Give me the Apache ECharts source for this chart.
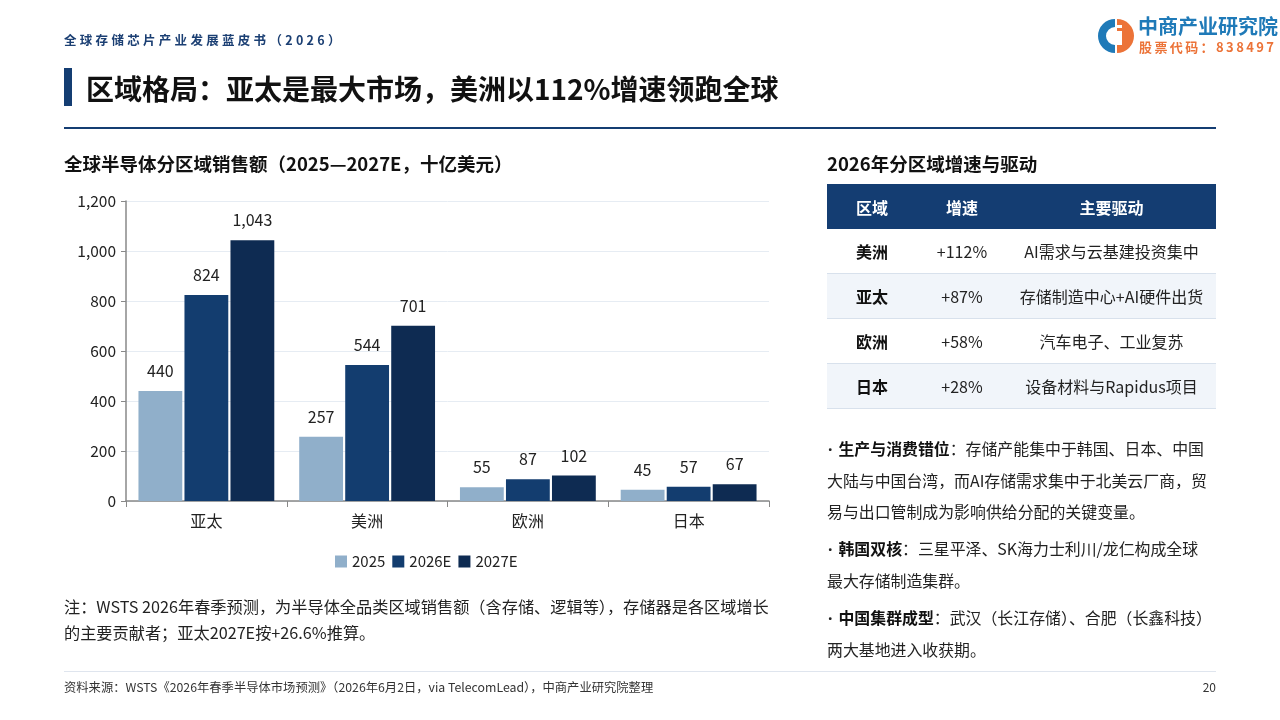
<!DOCTYPE html>
<html>
<head>
<meta charset="utf-8">
<script src="https://cdn.jsdelivr.net/npm/echarts@6/dist/echarts.min.js"></script>
<style>
  html,body{margin:0;padding:0;width:1280px;height:720px;background:#fff;overflow:hidden;
    font-family:"Noto Sans CJK SC","Noto Sans",sans-serif;color:#222;}
  #chart{position:absolute;left:0;top:0;width:1280px;height:720px;}
  .abs{position:absolute;white-space:nowrap;}
  .hdr{left:64px;top:31px;font-size:12.5px;font-weight:700;color:#1b3f73;letter-spacing:3.3px;line-height:18px;}
  .logo1{left:1138px;top:14px;font-size:20px;font-weight:700;color:#1f7ab8;line-height:24px;}
  .logo2{left:1139px;top:38px;font-size:13px;font-weight:700;color:#ec7338;letter-spacing:2.4px;line-height:18px;}
  .bar{left:64px;top:68px;width:8px;height:38px;background:#143d72;}
  .title{left:86px;top:69px;font-size:28px;font-weight:700;color:#111;line-height:38px;}
  .rule{left:64px;top:127px;width:1152px;height:2px;background:#143d72;}
  .ctitle{left:64px;top:151px;font-size:18.5px;font-weight:700;color:#111;line-height:24px;}
  .ttitle{left:827px;top:151px;font-size:18.5px;font-weight:700;color:#111;line-height:24px;}
  table{position:absolute;left:827px;top:184px;width:389px;border-collapse:collapse;font-size:16px;}
  th{background:#143d72;color:#fff;font-weight:700;height:45px;padding:0;font-size:16px;}
  td{height:44px;padding:0;text-align:center;border-bottom:1px solid #d8e1ec;color:#222;}
  tr.alt td{background:#f1f5fa;}
  td.r{font-weight:700;color:#111;}
  .bul{left:827px;font-size:15.9px;line-height:31px;color:#222;}
  .bul b{color:#111;}
  .dot{font-family:"Noto Sans",sans-serif;font-weight:700;margin-left:1px;margin-right:6px;}
  .note{left:64px;top:593px;font-size:16.2px;line-height:26px;color:#222;}
  .frule{left:64px;top:671px;width:1152px;height:1px;background:#dfe5ee;}
  .src{left:64px;top:679px;font-size:12.3px;color:#333;line-height:16px;}
  .pg{left:1190px;width:26px;text-align:right;top:679px;font-size:12px;color:#333;line-height:16px;}
</style>
</head>
<body>
<div id="chart"></div>

<div class="abs hdr">全球存储芯片产业发展蓝皮书（2026）</div>
<svg class="abs" style="left:1096px;top:17px" width="38" height="38" viewBox="0 0 38 38">
  <path d="M19 2 A17 17 0 0 0 19 36 L19 28 A9 9 0 0 1 19 10 Z" fill="#1f7ab8"/>
  <path d="M21 2 A17 17 0 0 1 21 36 Z" fill="#ec7338"/>
  <rect x="21" y="14" width="5" height="14" fill="#fff"/>
  <rect x="21" y="8" width="5" height="3" fill="#fff"/>
</svg>
<div class="abs logo1">中商产业研究院</div>
<div class="abs logo2">股票代码：838497</div>

<div class="abs bar"></div>
<div class="abs title">区域格局：亚太是最大市场，美洲以112%增速领跑全球</div>
<div class="abs rule"></div>

<div class="abs ctitle">全球半导体分区域销售额（2025—2027E，十亿美元）</div>
<div class="abs ttitle">2026年分区域增速与驱动</div>

<table id="tbl">
  <thead><tr><th style="width:90px">区域</th><th style="width:90px">增速</th><th>主要驱动</th></tr></thead>
  <tbody id="tbody"></tbody>
</table>

<div class="abs bul" style="top:433px"><span class="dot">·</span><b>生产与消费错位</b>：存储产能集中于韩国、日本、中国<br>大陆与中国台湾，而AI存储需求集中于北美云厂商，贸<br>易与出口管制成为影响供给分配的关键变量。</div>
<div class="abs bul" style="top:533px"><span class="dot">·</span><b>韩国双核</b>：三星平泽、SK海力士利川/龙仁构成全球<br>最大存储制造集群。</div>
<div class="abs bul" style="top:602px"><span class="dot">·</span><b>中国集群成型</b>：武汉（长江存储）、合肥（长鑫科技）<br>两大基地进入收获期。</div>

<div class="abs note">注：WSTS 2026年春季预测，为半导体全品类区域销售额（含存储、逻辑等），存储器是各区域增长<br>的主要贡献者；亚太2027E按+26.6%推算。</div>

<div class="abs frule"></div>
<div class="abs src">资料来源：WSTS《2026年春季半导体市场预测》（2026年6月2日，via TelecomLead），中商产业研究院整理</div>
<div class="abs pg">20</div>

<script>
const categories = ["亚太", "美洲", "欧洲", "日本"];
const seriesNames = ["2025", "2026E", "2027E"];
const sales2025 = [440, 257, 55, 45];
const sales2026 = [824, 544, 87, 57];
const sales2027 = [1043, 701, 102, 67];

const tableRegions = ["美洲", "亚太", "欧洲", "日本"];
const tableGrowth = ["+112%", "+87%", "+58%", "+28%"];
const tableDrivers = ["AI需求与云基建投资集中", "存储制造中心+AI硬件出货", "汽车电子、工业复苏", "设备材料与Rapidus项目"];

const tb = document.getElementById('tbody');
tableRegions.forEach((r, i) => {
  const tr = document.createElement('tr');
  if (i % 2 === 1) tr.className = 'alt';
  tr.innerHTML = '<td class="r">' + r + '</td><td>' + tableGrowth[i] + '</td><td>' + tableDrivers[i] + '</td>';
  tb.appendChild(tr);
});

const colors = ["#90afca", "#133d6f", "#0e2b52"];
const font = '"Noto Sans CJK SC","Noto Sans",sans-serif';
const fmt = v => v.toLocaleString('en-US');
const mk = (name, data, c) => ({
  name: name, type: 'bar', data: data, barGap: '5%', barCategoryGap: '15.5%',
  itemStyle: { color: c },
  label: { show: true, position: 'top', distance: 12, color: '#222', fontSize: 16, fontFamily: font,
    formatter: p => fmt(p.value) }
});

const chart = echarts.init(document.getElementById('chart'), null, { renderer: 'canvas' });
chart.setOption({
  animation: false,
  textStyle: { fontFamily: font },
  grid: { left: 126, top: 201, right: 511, bottom: 219, containLabel: false },
  legend: {
    data: seriesNames, left: 330, top: 549, itemWidth: 12, itemHeight: 12, itemGap: 7,
    icon: 'rect', textStyle: { fontSize: 15, color: '#222', fontFamily: font }
  },
  xAxis: {
    type: 'category', data: categories,
    axisLine: { lineStyle: { color: '#888', width: 1.5 } },
    axisTick: { show: true, length: 6, lineStyle: { color: '#888' } },
    axisLabel: { fontSize: 16, color: '#222', margin: 12, fontFamily: font }
  },
  yAxis: {
    type: 'value', min: 0, max: 1200, interval: 200,
    axisLine: { show: true, lineStyle: { color: '#888', width: 1.5 } },
    axisTick: { show: true, length: 5, lineStyle: { color: '#888' } },
    axisLabel: { fontSize: 15.5, color: '#222', margin: 10, formatter: v => fmt(v), fontFamily: font },
    splitLine: { lineStyle: { color: '#e6ecf3' } }
  },
  series: [
    mk(seriesNames[0], sales2025, colors[0]),
    mk(seriesNames[1], sales2026, colors[1]),
    mk(seriesNames[2], sales2027, colors[2])
  ]
});
</script>
</body>
</html>
